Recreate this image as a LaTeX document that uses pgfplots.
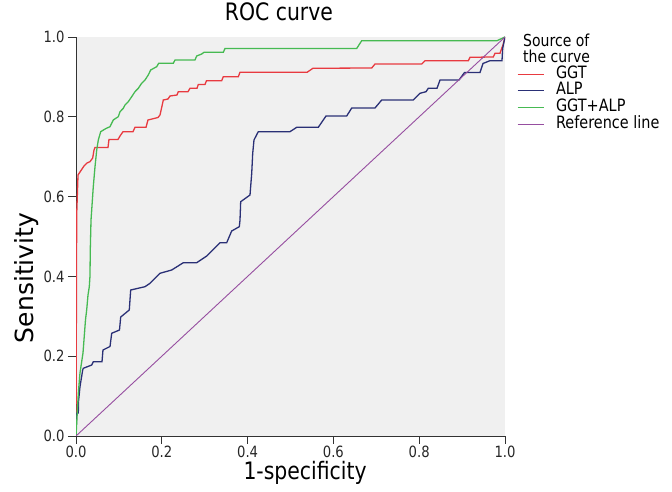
\documentclass[border=0pt]{standalone}
\usepackage{fontspec}
\setmainfont{DejaVu Sans}[FakeStretch=0.85]
\newfontfamily\ylabfont{DejaVu Sans}
\usepackage{pgfplots}
\pgfplotsset{compat=1.18}
\definecolor{bgc}{RGB}{240,240,240}
\definecolor{ggtc}{RGB}{232,58,64}
\definecolor{alpc}{RGB}{42,48,118}
\definecolor{bothc}{RGB}{70,186,82}
\definecolor{refc}{RGB}{150,78,160}
\definecolor{axc}{RGB}{50,50,50}
\begin{document}
\begin{tikzpicture}
\useasboundingbox (0,0) rectangle (672bp,492bp);
\begin{axis}[
  at={(76bp,56bp)}, anchor=south west,
  scale only axis, width=429bp, height=399bp,
  xmin=0, xmax=1, ymin=0, ymax=1,
  clip mode=individual,
  axis x line*=bottom, axis y line*=left,
  axis line style={axc, line width=1bp, -},
  axis background/.style={fill=bgc},
  xtick={0,0.2,0.4,0.6,0.8,1.0},
  ytick={0,0.2,0.4,0.6,0.8,1.0},
  tick align=outside, major tick length=8bp,
  tick style={axc, line width=0.9bp},
  /pgf/number format/.cd, fixed, fixed zerofill, precision=1, assume math mode=true,
  /pgfplots/.cd,
  tick label style={font=\fontsize{15.5bp}{18bp}\selectfont, text=black!85},
  xticklabel style={yshift=1.5bp},
  title={ROC curve},
  title style={at={(axis description cs:0.473,1)}, anchor=base, yshift=11bp, font=\fontsize{24bp}{28bp}\selectfont},
  xlabel={1-specificity},
  x label style={at={(axis description cs:0.534,0)}, anchor=base, yshift=-43bp, font=\fontsize{24bp}{28bp}\selectfont},
  ylabel={Sensitivity},
  y label style={at={(axis description cs:-0.1002,0.396)}, anchor=base, rotate=0, font=\ylabfont\fontsize{25bp}{29bp}\selectfont},
  legend style={at={(axis description cs:1.028,0.927)}, anchor=north west,
    draw=none, fill=none, inner sep=0pt, outer sep=0pt,
    font=\fontsize{17bp}{20bp}\selectfont,
    nodes={inner sep=0pt, text height=12bp, text depth=4bp},
    row sep=0.7bp,
    /tikz/every odd column/.append style={column sep=12bp}},
  legend cell align=left,
  legend image code/.code={\draw[#1, line width=1bp] (0bp,0bp) -- (26bp,0bp);},
]
\addplot[ggtc, line width=1.3bp] coordinates {
(0,0) (0.0016,0.5539) (0.0047,0.6541) (0.0093,0.6617) (0.0140,0.6692) (0.0186,0.6767)
(0.0256,0.6842) (0.0326,0.6875) (0.0389,0.6967) (0.0420,0.7168) (0.0443,0.7231)
(0.0746,0.7231) (0.0769,0.7431) (0.0979,0.7431) (0.1026,0.7519) (0.1096,0.7627)
(0.1329,0.7627) (0.1375,0.7737) (0.1632,0.7737) (0.1678,0.7920) (0.1911,0.7982)
(0.1958,0.8045) (0.2005,0.8271) (0.2035,0.8421) (0.2145,0.8446) (0.2191,0.8521)
(0.2354,0.8546) (0.2385,0.8629) (0.2611,0.8629) (0.2657,0.8714) (0.2821,0.8714)
(0.2851,0.8810) (0.3007,0.8810) (0.3042,0.8905) (0.3396,0.8905) (0.3434,0.9005)
(0.3783,0.9005) (0.3823,0.9115) (0.5385,0.9115) (0.5524,0.9216) (0.6893,0.9223)
(0.6970,0.9323) (0.8058,0.9323) (0.8135,0.9406) (0.9145,0.9406) (0.9184,0.9491)
(0.9727,0.9499) (0.9767,0.9591) (0.9883,0.9591) (0.9923,0.9717) (0.9953,0.9799) (1,1)
};
\addlegendentry{GGT}
\addplot[alpc, line width=1.3bp] coordinates {
(0,0) (0.0016,0.0569) (0.0054,0.0576) (0.0058,0.0860) (0.0093,0.1236) (0.0156,0.1654)
(0.0170,0.1697) (0.0366,0.1779) (0.0403,0.1862) (0.0606,0.1862) (0.0629,0.2155)
(0.0793,0.2243) (0.0832,0.2574) (0.1014,0.2657) (0.1042,0.2982) (0.1242,0.3158)
(0.1275,0.3659) (0.1608,0.3742) (0.1725,0.3827) (0.1958,0.4078) (0.2231,0.4160)
(0.2501,0.4343) (0.2814,0.4343) (0.3047,0.4511) (0.3357,0.4845) (0.3513,0.4845)
(0.3629,0.5138) (0.3807,0.5246) (0.3823,0.5414) (0.3839,0.5872) (0.4056,0.6040)
(0.4096,0.6584) (0.4119,0.7085) (0.4149,0.7419) (0.4249,0.7627) (0.4988,0.7627)
(0.5145,0.7737) (0.5648,0.7737) (0.5828,0.8020) (0.6310,0.8020) (0.6427,0.8221)
(0.6970,0.8221) (0.7126,0.8421) (0.7862,0.8421) (0.8019,0.8589) (0.8159,0.8629)
(0.8212,0.8714) (0.8415,0.8714) (0.8485,0.8922) (0.8928,0.8922) (0.9056,0.9110)
(0.9417,0.9110) (0.9487,0.9336) (0.9650,0.9406) (0.9930,0.9406) (0.9946,0.9717) (1,1)
};
\addlegendentry{ALP}
\addplot[bothc, line width=1.3bp] coordinates {
(0,0) (0.0054,0.107) (0.0093,0.158) (0.0163,0.208) (0.0186,0.2406) (0.0221,0.2907)
(0.0249,0.3158) (0.0280,0.3534) (0.0310,0.3742) (0.0326,0.4010) (0.0333,0.4662)
(0.0350,0.5414) (0.0366,0.5664) (0.0403,0.6248) (0.0443,0.6749) (0.0483,0.7168)
(0.0520,0.7419) (0.0576,0.7627) (0.0699,0.7707) (0.0793,0.7752) (0.0869,0.7920)
(0.0986,0.8003) (0.1026,0.8128) (0.1103,0.8213) (0.1142,0.8296) (0.1219,0.8378)
(0.1298,0.8504) (0.1375,0.8629) (0.1452,0.8714) (0.1531,0.8840) (0.1608,0.8922)
(0.1685,0.9048) (0.1741,0.9173) (0.1881,0.9256) (0.1928,0.9341) (0.2268,0.9341)
(0.2308,0.9424) (0.2774,0.9424) (0.2813,0.9524) (0.2930,0.9574) (0.2984,0.9617)
(0.3434,0.9617) (0.3473,0.9712) (0.6543,0.9712) (0.6660,0.9907) (0.9814,0.9907) (1,1)
};
\addlegendentry{GGT+ALP}
\addplot[refc, line width=0.9bp] coordinates {(0,0) (1,1)};
\addlegendentry{Reference line}
\node[anchor=north west, align=left, font=\fontsize{16.5bp}{16bp}\selectfont, inner sep=0pt] at (axis description cs:1.042,1.0088) {Source of\\the curve};
\end{axis}
\end{tikzpicture}
\end{document}
